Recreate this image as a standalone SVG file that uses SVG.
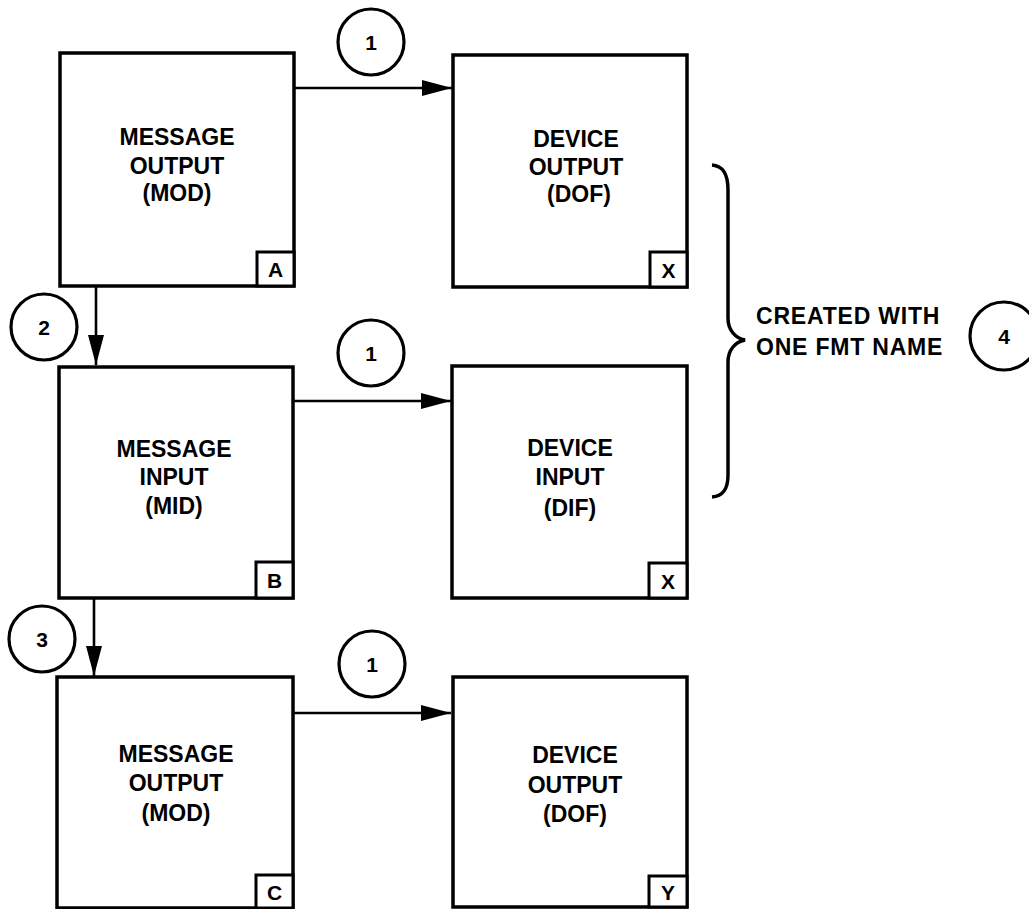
<svg xmlns="http://www.w3.org/2000/svg" width="1029" height="909" viewBox="0 0 1029 909">
<defs>
<style>
.box{fill:#fff;stroke:#000;stroke-width:3.5}
.tag{fill:#fff;stroke:#000;stroke-width:3}
.lbl{font-family:"Liberation Sans",Arial,sans-serif;font-weight:bold;font-size:23px;fill:#000;text-anchor:middle}
.tagt{font-family:"Liberation Sans",Arial,sans-serif;font-weight:bold;font-size:21px;fill:#000;text-anchor:middle}
.num{font-family:"Liberation Sans",Arial,sans-serif;font-weight:bold;font-size:21px;fill:#000;text-anchor:middle}
.circ{fill:none;stroke:#000;stroke-width:3.2}
.conn{fill:none;stroke:#000;stroke-width:2.6}
.note{font-family:"Liberation Sans",Arial,sans-serif;font-weight:bold;font-size:23px;fill:#000;letter-spacing:0.8px}
</style>
<marker id="ah" markerUnits="userSpaceOnUse" markerWidth="30" markerHeight="16" refX="30" refY="8" orient="auto">
<path d="M0,0 L30,8 L0,16 Z" fill="#000"/>
</marker>
</defs>

<g id="connectors">
<line class="conn" x1="294" y1="88" x2="452" y2="88" marker-end="url(#ah)"/>
<line class="conn" x1="293" y1="401" x2="451" y2="401" marker-end="url(#ah)"/>
<line class="conn" x1="293" y1="713" x2="451" y2="713" marker-end="url(#ah)"/>
<line class="conn" x1="96" y1="286" x2="96" y2="365" marker-end="url(#ah)"/>
<line class="conn" x1="94" y1="598" x2="94" y2="676" marker-end="url(#ah)"/>
</g>

<g id="node-mod-a">
<rect class="box" x="60" y="53" width="234" height="233"/>
<rect class="tag" x="257" y="252" width="37" height="34"/>
<text class="tagt" x="275.5" y="277">A</text>
<text class="lbl" x="177" y="145">MESSAGE</text>
<text class="lbl" x="177" y="174">OUTPUT</text>
<text class="lbl" x="177" y="201">(MOD)</text>
</g>

<g id="node-dof-x">
<rect class="box" x="453" y="55" width="234" height="232"/>
<rect class="tag" x="650" y="252" width="37" height="35"/>
<text class="tagt" x="668.5" y="278">X</text>
<text class="lbl" x="576" y="147">DEVICE</text>
<text class="lbl" x="576" y="175">OUTPUT</text>
<text class="lbl" x="579" y="202">(DOF)</text>
</g>

<g id="node-mid-b">
<rect class="box" x="59" y="367" width="234" height="231"/>
<rect class="tag" x="256" y="562" width="37" height="36"/>
<text class="tagt" x="274.5" y="588">B</text>
<text class="lbl" x="174" y="457">MESSAGE</text>
<text class="lbl" x="174" y="485">INPUT</text>
<text class="lbl" x="174" y="514">(MID)</text>
</g>

<g id="node-dif-x">
<rect class="box" x="452" y="366" width="235" height="232"/>
<rect class="tag" x="649" y="563" width="38" height="35"/>
<text class="tagt" x="668" y="589">X</text>
<text class="lbl" x="570" y="456">DEVICE</text>
<text class="lbl" x="570" y="485">INPUT</text>
<text class="lbl" x="570" y="516">(DIF)</text>
</g>

<g id="node-mod-c">
<rect class="box" x="57" y="677" width="236" height="231"/>
<rect class="tag" x="256" y="875" width="37" height="33"/>
<text class="tagt" x="274.5" y="900">C</text>
<text class="lbl" x="176" y="762">MESSAGE</text>
<text class="lbl" x="176" y="791">OUTPUT</text>
<text class="lbl" x="176" y="821">(MOD)</text>
</g>

<g id="node-dof-y">
<rect class="box" x="453" y="677" width="234" height="230"/>
<rect class="tag" x="649" y="876" width="38" height="31"/>
<text class="tagt" x="668" y="900">Y</text>
<text class="lbl" x="575" y="763">DEVICE</text>
<text class="lbl" x="575" y="793">OUTPUT</text>
<text class="lbl" x="575" y="822">(DOF)</text>
</g>

<g id="callout-1a">
<circle class="circ" cx="371" cy="42" r="33"/>
<text class="num" x="371" y="50">1</text>
</g>
<g id="callout-1b">
<circle class="circ" cx="371" cy="353" r="33"/>
<text class="num" x="371" y="361">1</text>
</g>
<g id="callout-1c">
<circle class="circ" cx="372" cy="664" r="33"/>
<text class="num" x="372" y="672">1</text>
</g>
<g id="callout-2">
<circle class="circ" cx="44" cy="327" r="33"/>
<text class="num" x="44" y="335">2</text>
</g>
<g id="callout-3">
<circle class="circ" cx="42" cy="639" r="33"/>
<text class="num" x="42" y="647">3</text>
</g>

<g id="brace-note">
<path d="M712,165 C724,166 728,175 728,190 L728,318 C728,330 735,338 745,340 C735,342 728,350 728,362 L728,475 C728,488 724,496 712,497" fill="none" stroke="#000" stroke-width="3.5"/>
<text class="note" x="756" y="324">CREATED WITH</text>
<text class="note" x="756" y="355">ONE FMT NAME</text>
</g>
<g id="callout-4">
<circle class="circ" cx="1004" cy="336" r="34"/>
<text class="num" x="1004" y="344">4</text>
</g>
</svg>
